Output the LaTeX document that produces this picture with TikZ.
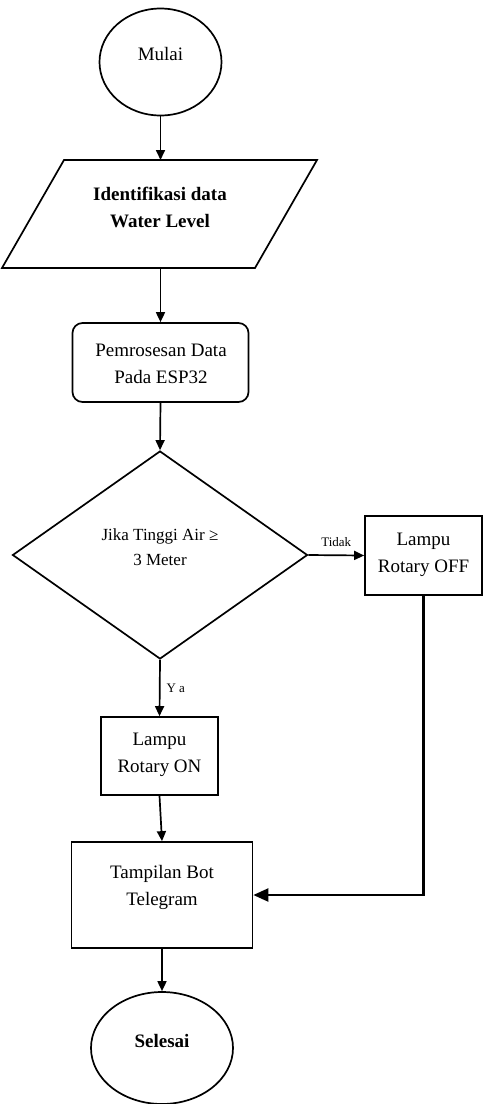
\documentclass[tikz,border=0pt]{standalone}
\usepackage{fontspec}
\setmainfont{Liberation Serif}
\usetikzlibrary{shapes.geometric,arrows.meta}
\begin{document}
\begin{tikzpicture}[x=1pt,y=-1pt,
  shp/.style={draw,line width=1.7pt,inner sep=0pt},
  txt/.style={align=center,inner sep=0pt,font=\fontsize{19}{27}\selectfont},
  lbl/.style={inner sep=0pt,font=\fontsize{13}{15}\selectfont},
  flow/.style={line width=1.7pt,-{Triangle[length=10pt,width=9pt]}},
  bigflow/.style={line width=2.2pt,-{Triangle[length=15pt,width=13pt]}}]
\useasboundingbox (0,0) rectangle (483,1104);
% shapes
\node[shp,ellipse,minimum width=122pt,minimum height=107pt] (mulai) at (160.5,62) {};
\node[txt] (tmulai) at (160.5,54) {Mulai};
\draw[line width=1.7pt,line join=miter] (64,160) -- (317,160) -- (255,268) -- (2,268) -- cycle;
\coordinate (idenT) at (160.5,160);
\coordinate (idenB) at (160.5,268);
\node[txt,font=\bfseries\fontsize{19}{27}\selectfont] (iden) at (160,207) {Identifikasi data\\Water Level};
\node[shp,rounded corners=10pt,minimum width=176pt,minimum height=79pt] (proc) at (160.5,362.5) {};
\node[txt] (tproc) at (161,364) {Pemrosesan Data\\Pada ESP32};
\node[shp,diamond,minimum width=295pt,minimum height=208pt] (dec) at (160,555) {};
\node[txt,font=\fontsize{17}{25}\selectfont] (tdec) at (160,547) {Jika Tinggi Air ≥\\3 Meter};
\node[shp,rectangle,minimum width=117pt,minimum height=79pt] (off) at (423.5,555.5) {};
\node[txt] (toff) at (423.5,555) {Lampu\\Rotary OFF};
\node[shp,rectangle,minimum width=117pt,minimum height=78pt] (on) at (159.5,756) {};
\node[txt] (ton) at (159.5,755) {Lampu\\Rotary ON};
\node[shp,rectangle,minimum width=181pt,minimum height=106pt] (tamp) at (162,895) {};
\node[txt] (ttamp) at (162,887) {Tampilan Bot\\Telegram};
\node[shp,ellipse,minimum width=142pt,minimum height=112pt] (sel) at (162,1048) {};
\node[txt,font=\bfseries\fontsize{19}{27}\selectfont] (tsel) at (162,1041) {Selesai};
% connectors
\draw[flow] (mulai.south) -- (idenT);
\draw[flow] (idenB) -- (proc.north);
\draw[flow] (proc.south) -- (dec.north);
\draw[flow] (dec.east) -- node[lbl,above=8pt] (ltidak) {Tidak} (off.west);
\draw[flow] (dec.south) -- node[lbl,right=6pt] (lya) {Y a} (on.north);
\draw[flow] (on.south) -- (tamp.north);
\draw[bigflow] (off.south) |- (tamp.east);
\draw[flow] (tamp.south) -- (sel.north);
\end{tikzpicture}
\end{document}
